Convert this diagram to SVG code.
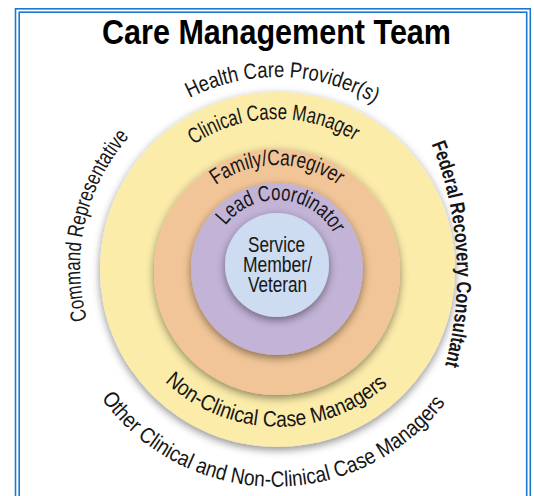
<svg xmlns="http://www.w3.org/2000/svg" width="534" height="496" viewBox="0 0 534 496">
<style>
.lbl{font-family:"Liberation Sans",Arial,sans-serif;font-size:22px;fill:#161616}
.bold{font-weight:bold;font-size:20.5px}
.frame{fill:none;stroke:#1c78cf;stroke-width:1.6}
</style>
<defs>
<filter id="sh" x="-20%" y="-20%" width="140%" height="140%">
<feDropShadow dx="0" dy="3" stdDeviation="4" flood-color="#000" flood-opacity="0.45"/>
</filter>
<path id="p-health" d="M277,459 A191,191 0 1,1 277,77 A191,191 0 1,1 277,459"/>
<path id="p-clin" d="M277,415 A148,148 0 1,1 277,119 A148,148 0 1,1 277,415"/>
<path id="p-fam" d="M277,371 A103,103 0 1,1 277,165 A103,103 0 1,1 277,371"/>
<path id="p-lead" d="M277,330 A65,65 0 1,1 277,200 A65,65 0 1,1 277,330"/>
<path id="p-cmd" d="M277,464 A197,197 0 1,1 277,70 A197,197 0 1,1 277,464"/>
<path id="p-frc" d="M107,625 A350,350 0 1,1 107,-75 A350,350 0 1,1 107,625"/>
<path id="p-ncm" d="M278,96.6 A165,165 0 1,0 278,426.6 A165,165 0 1,0 278,96.6"/>
<path id="p-other" d="M275,56.7 A215,215 0 1,0 275,486.7 A215,215 0 1,0 275,56.7"/>
</defs>
<rect width="534" height="496" fill="#fff"/>
<rect class="frame" x="15.5" y="8.8" width="514.8" height="500"/>
<rect class="frame" x="19.2" y="12.2" width="507.5" height="500"/>
<text x="276.5" y="44" text-anchor="middle" font-family="'Liberation Sans',Arial,sans-serif" font-weight="bold" font-size="35" fill="#000" textLength="349" lengthAdjust="spacingAndGlyphs">Care Management Team</text>

<g id="ring-outer">
<circle cx="277.5" cy="269.5" r="177.5" fill="#fcecaa" filter="url(#sh)"/>
<text class="lbl"><textPath href="#p-clin" startOffset="49.6%" text-anchor="middle" textLength="170" lengthAdjust="spacingAndGlyphs">Clinical Case Manager</textPath></text>
<text class="lbl"><textPath href="#p-ncm" startOffset="49.78%" text-anchor="middle" textLength="245" lengthAdjust="spacingAndGlyphs">Non-Clinical Case Managers</textPath></text>
</g>
<g id="ring-family">
<circle cx="277" cy="272" r="123" fill="#f1c597" filter="url(#sh)"/>
<text class="lbl"><textPath href="#p-fam" startOffset="50%" text-anchor="middle" textLength="131" lengthAdjust="spacingAndGlyphs">Family/Caregiver</textPath></text>
</g>
<g id="ring-lead">
<circle cx="277" cy="269" r="86" fill="#c2b3d7" filter="url(#sh)"/>
<text class="lbl"><textPath href="#p-lead" startOffset="51.2%" text-anchor="middle" textLength="129" lengthAdjust="spacingAndGlyphs">Lead Coordinator</textPath></text>
</g>
<g id="core">
<circle cx="277" cy="265" r="52" fill="#cddcf1" filter="url(#sh)"/>
<text class="lbl" font-size="21" text-anchor="middle"><tspan x="276.5" y="252" textLength="57" lengthAdjust="spacingAndGlyphs">Service</tspan><tspan x="277.5" y="272" textLength="69" lengthAdjust="spacingAndGlyphs">Member/</tspan><tspan x="277.5" y="292" textLength="59" lengthAdjust="spacingAndGlyphs">Veteran</tspan></text>
</g>
<g id="health-care-provider">
<text class="lbl"><textPath href="#p-health" startOffset="50.47%" text-anchor="middle" textLength="193" lengthAdjust="spacingAndGlyphs">Health Care Provider(s)</textPath></text>
</g>
<g id="command-representative">
<text class="lbl"><textPath href="#p-cmd" startOffset="28.6%" text-anchor="middle" textLength="196" lengthAdjust="spacingAndGlyphs">Command Representative</textPath></text>
</g>
<g id="federal-recovery-consultant">
<text class="lbl bold"><textPath href="#p-frc" startOffset="74.03%" text-anchor="middle" textLength="226" lengthAdjust="spacingAndGlyphs">Federal Recovery Consultant</textPath></text>
</g>
<g id="other-case-managers">
<text class="lbl"><textPath href="#p-other" startOffset="49.8%" text-anchor="middle" textLength="399" lengthAdjust="spacingAndGlyphs">Other Clinical and Non-Clinical Case Managers</textPath></text>
</g>
</svg>
